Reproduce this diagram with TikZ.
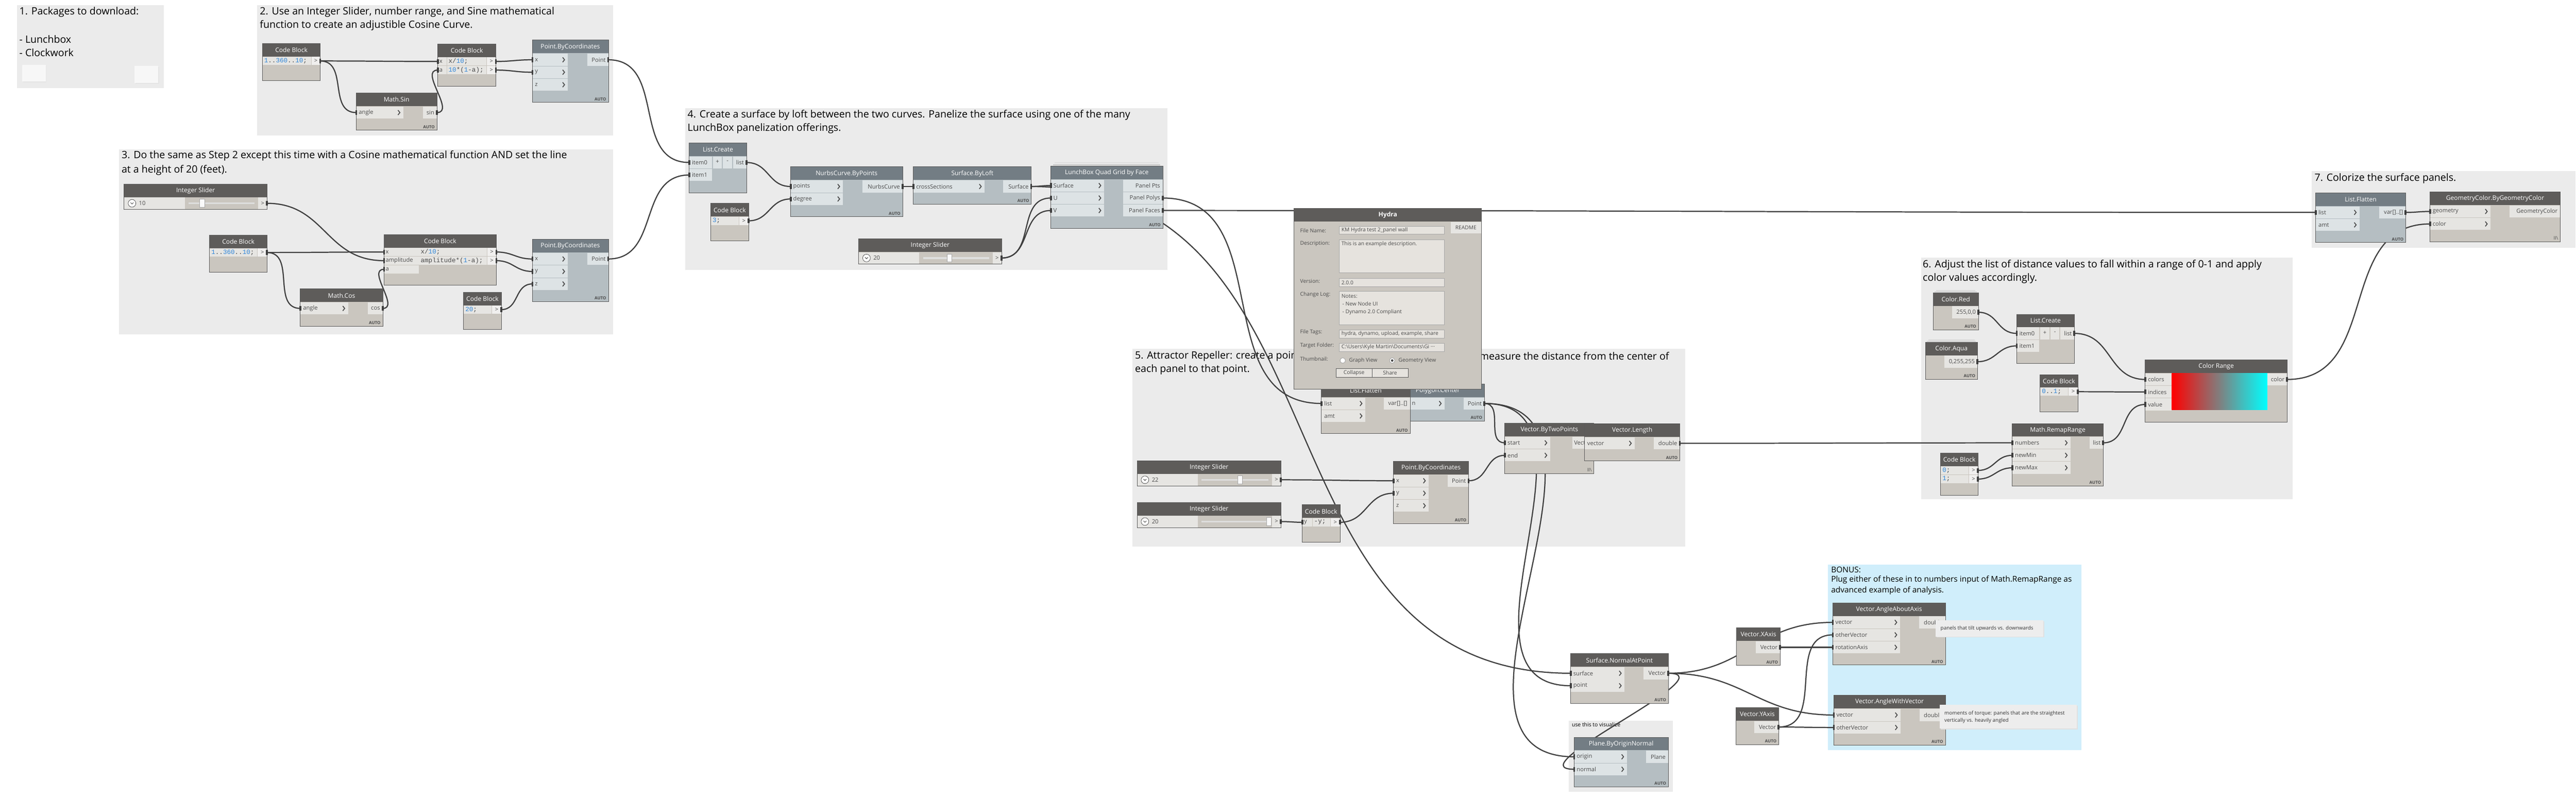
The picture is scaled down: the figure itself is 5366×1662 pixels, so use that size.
\documentclass[tikz,border=0pt]{standalone}
\usepackage{fontspec}
\setmainfont{Open Sans}
\newfontfamily\monof{Liberation Mono}
\usetikzlibrary{calc,fit}
\pgfdeclarelayer{bg}
\pgfdeclarelayer{wires}
\pgfsetlayers{bg,wires,main}
\definecolor{grp}{HTML}{EBEBEB}
\definecolor{bonusc}{HTML}{D0EEFB}
\definecolor{dkhead}{HTML}{5E5C5A}
\definecolor{dkbody}{HTML}{CAC6BF}
\definecolor{dkrow}{HTML}{E6E5E2}
\definecolor{blhead}{HTML}{737D84}
\definecolor{blbody}{HTML}{B5BEC2}
\definecolor{blrow}{HTML}{DDE3E5}
\definecolor{nborder}{HTML}{5A5A5A}
\definecolor{wirec}{HTML}{3E3E3E}
\definecolor{cblue}{HTML}{2F86DA}
\definecolor{ptxt}{HTML}{4A4A4A}
\definecolor{hfield}{HTML}{E6E3DE}
\definecolor{hborder}{HTML}{A8A8A8}
\definecolor{notec}{HTML}{EDEDED}
\definecolor{trackc}{HTML}{DEDEDE}
\tikzset{
 gtitle/.style={inner sep=0, anchor=west, text=black, font=\fontsize{10.5}{12.5}\selectfont},
 btitle/.style={inner sep=0, anchor=west, text=black, font=\fontsize{8.3}{10}\selectfont},
 htitle/.style={inner sep=0, text=white, font=\fontsize{6.5}{8}\selectfont},
 plabel/.style={inner sep=0, text=ptxt, font=\fontsize{6}{7.2}\selectfont},
 codetxt/.style={inner sep=0, anchor=west, text=ptxt, font=\monof\fontsize{6.75}{8}\selectfont},
 autolbl/.style={inner sep=0, anchor=south east, text=ptxt, font=\bfseries\fontsize{4.3}{5}\selectfont},
 wire/.style={draw=wirec, line width=1.2pt},
 chev/.style={draw=ptxt, line width=0.9pt},
 nb/.style={draw=nborder, line width=0.5pt},
 hyd/.style={inner sep=0, anchor=west, text=ptxt, font=\fontsize{5.5}{6.6}\selectfont},
 notet/.style={inner sep=0, anchor=west, text=black!80, font=\fontsize{5.3}{6.4}\selectfont},
}
% node box: name x1 y1 x2 y2 hb title scheme
\newcommand\DN[8]{%
 \node[fit={(#2,#3)(#4,#5)}, inner sep=0, fill=#8body] (#1) {};
 \fill[#8head] (#2,#3) rectangle (#4,#6);
 \node[htitle] (#1-t) at ({(#2+#4)/2},{(#3+#6)/2}) {#7};}
\newcommand\Bd[1]{\draw[nb] (#1.north west) rectangle (#1.south east);}
% input row: scheme x1 yc colright label port
\newcommand\DIn[6]{%
 \fill[#1row] (#2,#3-12.5) rectangle (#4,#3+12.5);
 \node[plabel, anchor=west] (#6-l) at (#2+5,#3) {#5};
 \draw[chev] (#4-11,#3-5) -- (#4-7,#3) -- (#4-11,#3+5);
 \coordinate (#6) at (#2,#3);}
\newcommand\DInN[6]{%
 \fill[#1row] (#2,#3-12.5) rectangle (#4,#3+12.5);
 \node[plabel, anchor=west] (#6-l) at (#2+5,#3) {#5};
 \coordinate (#6) at (#2,#3);}
% output row: scheme x2 yc colleft label port
\newcommand\DOut[6]{%
 \fill[#1row] (#4,#3-12.5) rectangle (#2,#3+12.5);
 \node[plabel, anchor=east] (#6-l) at (#2-5,#3) {#5};
 \coordinate (#6) at (#2,#3);}
% code row: port codeleft outleft x2 yc text
\newcommand\DCode[6]{%
 \fill[dkrow] (#2,#5-8.5) rectangle (#3-1,#5+8.5);
 \fill[dkrow!60!white] (#3,#5-8.5) rectangle (#4,#5+8.5);
 \node[codetxt] (#1-c) at (#2+3,#5) {#6};
 \node[plabel] (#1-g) at ({(#3+#4)/2},#5) {>};
 \coordinate (#1) at (#4,#5);}
% code input: port x1 colright yc label
\newcommand\DCin[5]{%
 \fill[dkrow] (#2,#4-8.5) rectangle (#3,#4+8.5);
 \node[plabel, anchor=west] (#1-l) at (#2+3,#4) {#5};
 \coordinate (#1) at (#2,#4);}
\newcommand\DAuto[3]{\node[autolbl] (#1) at (#2-4,#3-3) {AUTO};}
\newcommand\DLace[3]{\node[autolbl, font=\fontsize{5}{6}\selectfont] (#1) at (#2-4,#3-3) {II\textbackslash};}
% slider: name x1 y1 x2 y2 hb value thumbx
\newcommand\DSlider[8]{%
 \DN{#1}{#2}{#3}{#4}{#5}{#6}{Integer Slider}{dk}
 \fill[dkrow] (#2,#6+0.5) rectangle (#2+126,#5);
 \fill[dkrow] (#4-18,#6+0.5) rectangle (#4,#5);
 \draw[fill=white, draw=ptxt, line width=0.4pt] (#2+16,{(#6+#5)/2}) circle (4pt);
 \draw[ptxt, line width=0.5pt] (#2+13,{(#6+#5)/2-1.5}) -- (#2+16,{(#6+#5)/2+1.5}) -- (#2+19,{(#6+#5)/2-1.5});
 \node[plabel, anchor=west] (#1-v) at (#2+30,{(#6+#5)/2}) {#7};
 \fill[trackc] (#2+134,{(#6+#5)/2-1.8}) rectangle (#4-26,{(#6+#5)/2+1.8});
 \draw[draw=gray!70, fill=white!96!gray, line width=0.4pt] (#8-5,#6+4) rectangle (#8+5,#5-4);
 \node[plabel] (#1-g) at (#4-9,{(#6+#5)/2}) {>};
 \coordinate (#1-o) at (#4,{(#6+#5)/2});
 \Bd{#1}}
\newcommand\DwireNT[2]{%
 \begin{pgfonlayer}{wires}
 \draw[wire] let \p1=(#1), \p2=(#2), \n1={4.5*veclen((\x2-\x1)/10,(\y2-\y1)/10)} in (#1) .. controls +(\n1,0pt) and +(-\n1,0pt) .. (#2);
 \end{pgfonlayer}}
\newcommand\Dwire[2]{%
 \DwireNT{#1}{#2}
 \fill[wirec] ($(#1)+(-2,-5)$) rectangle ($(#1)+(2,5)$);
 \fill[wirec] ($(#2)+(-2,-5)$) rectangle ($(#2)+(2,5)$);}
\begin{document}
\begin{tikzpicture}[x=0.5pt,y=-0.5pt]
\useasboundingbox (0,0) rectangle (5366,1662);
\begin{pgfonlayer}{bg}
\fill[white] (0,0) rectangle (5366,1662);
% groups
\fill[grp] (35,11) rectangle (341,184);
\fill[grp] (536,11) rectangle (1277,282);
\fill[grp] (248,311) rectangle (1277,697);
\fill[grp] (1427,225) rectangle (2432,562);
\fill[grp] (2359,727) rectangle (3510,1139);
\fill[grp] (4002,537) rectangle (4776,1040);
\fill[grp] (4815,356) rectangle (5365,516);
\fill[grp] (3268,1501) rectangle (3485,1649);
\fill[bonusc] (3808,1176) rectangle (4336,1563);
\node[gtitle] (g1a) at (40,25) {1. Packages to download:};
\node[gtitle] (g1b) at (40,82) {- Lunchbox};
\node[gtitle] (g1c) at (40,110) {- Clockwork};
\fill[black!10] (48,137) rectangle (97,172);
\node[fit={(46,135)(95,170)}, inner sep=0, fill=white!94!gray] (g1box1) {};
\fill[black!10] (282,139) rectangle (332,175);
\node[fit={(280,137)(330,173)}, inner sep=0, fill=white!94!gray] (g1box2) {};
\node[gtitle] (g2a) at (541,25) {2. Use an Integer Slider, number range, and Sine mathematical};
\node[gtitle] (g2b) at (541,53) {function to create an adjustible Cosine Curve.};
\node[gtitle] (g3a) at (253,325) {3. Do the same as Step 2 except this time with a Cosine mathematical function AND set the line};
\node[gtitle] (g3b) at (253,355) {at a height of 20 (feet).};
\node[gtitle] (g4a) at (1432,240) {4. Create a surface by loft between the two curves. Panelize the surface using one of the many};
\node[gtitle] (g4b) at (1432,268) {LunchBox panelization offerings.};
\node[gtitle] (g5a) at (2364,742) {5. Attractor Repeller: create a point};
\node[gtitle, anchor=east] (g5b) at (3477,742) {and measure the distance from the center of};
\node[gtitle] (g5c) at (2364,770) {each panel to that point.};
\node[gtitle] (g6a) at (4005,552) {6. Adjust the list of distance values to fall within a range of 0-1 and apply};
\node[gtitle] (g6b) at (4005,580) {color values accordingly.};
\node[gtitle] (g7a) at (4821,372) {7. Colorize the surface panels.};
\node[inner sep=0, anchor=west, font=\fontsize{5.6}{6.7}\selectfont] (gva) at (3274,1510) {use this to visualize};
\node[btitle] (gba) at (3814,1187) {BONUS:};
\node[btitle] (gbb) at (3814,1208) {Plug either of these in to numbers input of Math.RemapRange as};
\node[btitle] (gbc) at (3814,1230) {advanced example of analysis.};
\end{pgfonlayer}
% ===== GROUP 2 =====
\DN{cb2a}{547}{91}{667}{168}{118}{Code Block}{dk}
\DCode{cb2a-o}{547}{649}{667}{127}{\textcolor{cblue}{1}..\textcolor{cblue}{360}..\textcolor{cblue}{10};}
\Bd{cb2a}
\DN{cb2b}{912}{92}{1033}{179}{119}{Code Block}{dk}
\DCin{cb2b-x}{912}{930}{128}{x}
\DCin{cb2b-a}{912}{930}{146}{a}
\DCode{cb2b-o1}{931}{1014}{1033}{128}{x/\textcolor{cblue}{10};}
\DCode{cb2b-o2}{931}{1014}{1033}{146}{\textcolor{cblue}{10}*(\textcolor{cblue}{1}-a);}
\Bd{cb2b}
\DN{pbc2}{1109}{84}{1267}{213}{111}{Point.ByCoordinates}{bl}
\DIn{bl}{1109}{124.5}{1183}{x}{pbc2-x}
\DIn{bl}{1109}{150.5}{1183}{y}{pbc2-y}
\DIn{bl}{1109}{176.5}{1183}{z}{pbc2-z}
\DOut{bl}{1267}{124.5}{1223}{Point}{pbc2-o}
\DAuto{pbc2-au}{1267}{213}
\Bd{pbc2}
\DN{ms}{742}{194}{910}{271}{221}{Math.Sin}{dk}
\DIn{dk}{742}{234.5}{840}{angle}{ms-i}
\DOut{dk}{910}{234.5}{881}{sin}{ms-o}
\DAuto{ms-au}{910}{271}
\Bd{ms}
% ===== GROUP 3 =====
\DSlider{is3}{259}{384}{556}{436}{411}{10}{421}
\DN{cb3a}{437}{490}{556}{567}{517}{Code Block}{dk}
\DCode{cb3a-o}{437}{537}{556}{526}{\textcolor{cblue}{1}..\textcolor{cblue}{360}..\textcolor{cblue}{10};}
\Bd{cb3a}
\DN{cb3b}{800}{489}{1034}{594}{516}{Code Block}{dk}
\DCin{cb3b-x}{800}{872}{525}{x}
\DCin{cb3b-amp}{800}{872}{543}{amplitude}
\DCin{cb3b-a}{800}{872}{561}{a}
\DCode{cb3b-o1}{873}{1015}{1034}{525}{x/\textcolor{cblue}{10};}
\DCode{cb3b-o2}{873}{1015}{1034}{543}{amplitude*(\textcolor{cblue}{1}-a);}
\Bd{cb3b}
\DN{pbc3}{1109}{499}{1267}{628}{526}{Point.ByCoordinates}{bl}
\DIn{bl}{1109}{539.5}{1183}{x}{pbc3-x}
\DIn{bl}{1109}{565.5}{1183}{y}{pbc3-y}
\DIn{bl}{1109}{591.5}{1183}{z}{pbc3-z}
\DOut{bl}{1267}{539.5}{1223}{Point}{pbc3-o}
\DAuto{pbc3-au}{1267}{628}
\Bd{pbc3}
\DN{mc}{626}{602}{797}{679}{629}{Math.Cos}{dk}
\DIn{dk}{626}{642.5}{725}{angle}{mc-i}
\DOut{dk}{797}{642.5}{766}{cos}{mc-o}
\DAuto{mc-au}{797}{679}
\Bd{mc}
\DN{cb3c}{966}{609}{1044}{686}{636}{Code Block}{dk}
\DCode{cb3c-o}{966}{1025}{1044}{645}{\textcolor{cblue}{20};}
\Bd{cb3c}
% ===== GROUP 4 =====
\DN{lc4}{1436}{298}{1555}{401}{325}{List.Create}{bl}
\DInN{bl}{1436}{338.5}{1483}{item0}{lc4-i0}
\DInN{bl}{1436}{364.5}{1483}{item1}{lc4-i1}
\fill[blrow] (1485,326) rectangle (1504,351);
\node[plabel] (lc4-plus) at (1494.5,337) {+};
\fill[blrow] (1506,326) rectangle (1525,351);
\node[plabel] (lc4-minus) at (1515.5,337) {-};
\DOut{bl}{1555}{338.5}{1527}{list}{lc4-o}
\Bd{lc4}
\DN{cb4}{1481}{424}{1559}{501}{451}{Code Block}{dk}
\DCode{cb4-o}{1481}{1540}{1559}{460}{\textcolor{cblue}{3};}
\Bd{cb4}
\DN{nc}{1647}{348}{1880}{451}{375}{NurbsCurve.ByPoints}{bl}
\DIn{bl}{1647}{388.5}{1756}{points}{nc-pts}
\DIn{bl}{1647}{414.5}{1756}{degree}{nc-deg}
\DOut{bl}{1880}{388.5}{1796}{NurbsCurve}{nc-o}
\DAuto{nc-au}{1880}{451}
\Bd{nc}
\DN{sl}{1903}{348}{2148}{425}{375}{Surface.ByLoft}{bl}
\DIn{bl}{1903}{388.5}{2051}{crossSections}{sl-i}
\DOut{bl}{2148}{388.5}{2090}{Surface}{sl-o}
\DAuto{sl-au}{2148}{425}
\Bd{sl}
\fill[gray!25] (2197,338.5) rectangle (2414,340.5);
\fill[gray!45] (2194,342) rectangle (2417,344.5);
\DN{lb}{2189}{346}{2422}{475}{373}{LunchBox Quad Grid by Face}{bl}
\DIn{bl}{2189}{386.5}{2300}{Surface}{lb-srf}
\DIn{bl}{2189}{412.5}{2300}{U}{lb-u}
\DIn{bl}{2189}{438.5}{2300}{V}{lb-v}
\DOut{bl}{2422}{386.5}{2340}{Panel Pts}{lb-pts}
\DOut{bl}{2422}{412.5}{2340}{Panel Polys}{lb-polys}
\DOut{bl}{2422}{438.5}{2340}{Panel Faces}{lb-faces}
\DAuto{lb-au}{2422}{475}
\Bd{lb}
\DSlider{is4}{1789}{498}{2086}{550}{525}{20}{1978}
% ===== GROUP 5 =====
\DSlider{is5a}{2369}{960}{2668}{1012}{987}{22}{2583}
\DSlider{is5b}{2369}{1047}{2668}{1099}{1074}{20}{2643}
\DN{cb5}{2713}{1052}{2791}{1129}{1079}{Code Block}{dk}
\DCin{cb5-i}{2713}{2733}{1088}{y}
\DCode{cb5-o}{2734}{2772}{2791}{1088}{-y;}
\Bd{cb5}
\DN{pbc5}{2903}{961}{3059}{1090}{988}{Point.ByCoordinates}{dk}
\DIn{dk}{2903}{1001.5}{2976}{x}{pbc5-x}
\DIn{dk}{2903}{1027.5}{2976}{y}{pbc5-y}
\DIn{dk}{2903}{1053.5}{2976}{z}{pbc5-z}
\DOut{dk}{3059}{1001.5}{3016}{Point}{pbc5-o}
\DAuto{pbc5-au}{3059}{1090}
\Bd{pbc5}
\DN{pc}{2898}{800}{3092}{877}{827}{Polygon.Center}{bl}
\fill[blrow] (2898,828) rectangle (3009,853);
\node[plabel, anchor=east] (pc-i-l) at (2949,840.5) {n};
\draw[chev] (2998,835.5) -- (3002,840.5) -- (2998,845.5);
\coordinate (pc-i) at (2898,840.5);
\DOut{bl}{3092}{840.5}{3049}{Point}{pc-o}
\DAuto{pc-au}{3092}{877}
\Bd{pc}
\DN{lf5}{2753}{800}{2937}{903}{827}{List.Flatten}{dk}
\DIn{dk}{2753}{840.5}{2844}{list}{lf5-list}
\DIn{dk}{2753}{866.5}{2844}{amt}{lf5-amt}
\DOut{dk}{2937}{840.5}{2883}{var[]..[]}{lf5-o}
\DAuto{lf5-au}{2937}{903}
\Bd{lf5}
\DN{vb}{3135}{882}{3320}{986}{909}{Vector.ByTwoPoints}{dk}
\DIn{dk}{3135}{922.5}{3229}{start}{vb-start}
\DIn{dk}{3135}{948.5}{3229}{end}{vb-end}
\DOut{dk}{3320}{922.5}{3275}{Vector}{vb-o}
\DLace{vb-lc}{3320}{986}
\Bd{vb}
\DN{vl}{3301}{883}{3499}{960}{910}{Vector.Length}{dk}
\DIn{dk}{3301}{923.5}{3405}{vector}{vl-i}
\DOut{dk}{3499}{923.5}{3445}{double}{vl-o}
\DAuto{vl-au}{3499}{960}
\Bd{vl}
% ===== HYDRA =====
\DN{hydra}{2696}{434}{3086}{810}{461}{\bfseries Hydra}{dk}
\node[fit={(3022,462)(3085,486)}, inner sep=0, fill=dkrow] (hrm) {};
\node[hyd, anchor=center] (hrmt) at (3053.5,474) {README};
\node[hyd] (hl1) at (2708,480) {File Name:};
\node[fit={(2790,472)(3009,488)}, inner sep=0, fill=hfield, draw=hborder, line width=0.5pt] (hf1) {};
\node[hyd] (hf1t) at (2794,480) {KM Hydra test 2\_panel wall};
\node[hyd] (hl2) at (2708,508) {Description:};
\node[fit={(2790,499)(3009,568)}, inner sep=0, fill=hfield, draw=hborder, line width=0.5pt] (hf2) {};
\node[hyd] (hf2t) at (2794,509) {This is an example description.};
\node[hyd] (hl3) at (2708,586) {Version:};
\node[fit={(2790,580)(3009,597)}, inner sep=0, fill=hfield, draw=hborder, line width=0.5pt] (hf3) {};
\node[hyd] (hf3t) at (2794,588.5) {2.0.0};
\node[hyd] (hl4) at (2708,614) {Change Log:};
\node[fit={(2790,607)(3009,677)}, inner sep=0, fill=hfield, draw=hborder, line width=0.5pt] (hf4) {};
\node[hyd] (hf4a) at (2794,617) {Notes:};
\node[hyd] (hf4b) at (2796,633) {- New Node UI};
\node[hyd] (hf4c) at (2796,650) {- Dynamo 2.0 Compliant};
\node[hyd] (hl5) at (2708,692) {File Tags:};
\node[fit={(2790,687)(3009,704)}, inner sep=0, fill=hfield, draw=hborder, line width=0.5pt] (hf5) {};
\begin{scope}
\clip (2791,688) rectangle (3008,703);
\node[hyd] (hf5t) at (2794,695.5) {hydra, dynamo, upload, example, share};
\end{scope}
\node[hyd] (hl6) at (2708,720) {Target Folder:};
\node[fit={(2790,715)(3009,732)}, inner sep=0, fill=hfield, draw=hborder, line width=0.5pt] (hf6) {};
\node[hyd] (hf6t) at (2794,723.5) {C:\textbackslash Users\textbackslash Kyle Martin\textbackslash Documents\textbackslash Gi ···};
\node[hyd] (hl7) at (2708,748) {Thumbnail:};
\draw[fill=white, draw=gray!80, line width=0.4pt] (2797,751) circle (2.8pt);
\node[hyd] (hr1) at (2810,751) {Graph View};
\draw[fill=white, draw=gray!80, line width=0.4pt] (2900,751) circle (2.8pt);
\fill[ptxt] (2900,751) circle (1.3pt);
\node[hyd] (hr2) at (2913,751) {Geometry View};
\node[fit={(2783,768)(2858,786)}, inner sep=0, fill=hfield, draw=gray!70!black, line width=0.5pt] (hb1) {};
\node[hyd, anchor=center] (hb1t) at (2820.5,777) {Collapse};
\node[fit={(2858,768)(2933,786)}, inner sep=0, fill=hfield, draw=gray!70!black, line width=0.5pt] (hb2) {};
\node[hyd, anchor=center] (hb2t) at (2895.5,777) {Share};
\Bd{hydra}
% ===== GROUP 6 =====
\fill[gray!30] (4033,604) rectangle (4115,606);
\fill[gray!50] (4030,607) rectangle (4118,609);
\DN{cr}{4027}{610}{4121}{687}{637}{Color.Red}{dk}
\DOut{dk}{4121}{650.5}{4066}{255,0,0}{cr-o}
\DAuto{cr-au}{4121}{687}
\Bd{cr}
\fill[gray!30] (4017,707) rectangle (4113,709);
\fill[gray!50] (4014,710) rectangle (4116,712);
\DN{ca}{4011}{713}{4119}{790}{740}{Color.Aqua}{dk}
\DOut{dk}{4119}{753.5}{4050}{0,255,255}{ca-o}
\DAuto{ca-au}{4119}{790}
\Bd{ca}
\DN{lc6}{4201}{655}{4321}{757}{681}{List.Create}{dk}
\DInN{dk}{4201}{694.5}{4248}{item0}{lc6-i0}
\DInN{dk}{4201}{720.5}{4248}{item1}{lc6-i1}
\fill[dkrow] (4250,682) rectangle (4269,707);
\node[plabel] (lc6-plus) at (4259.5,693) {+};
\fill[dkrow] (4271,682) rectangle (4290,707);
\node[plabel] (lc6-minus) at (4280.5,693) {-};
\DOut{dk}{4321}{694.5}{4292}{list}{lc6-o}
\Bd{lc6}
\DN{cb6a}{4250}{781}{4328}{858}{807}{Code Block}{dk}
\DCode{cb6a-o}{4250}{4309}{4328}{816}{\textcolor{cblue}{0}..\textcolor{cblue}{1};}
\Bd{cb6a}
\DN{crg}{4469}{750}{4764}{879}{777}{Color Range}{dk}
\DInN{dk}{4469}{790.5}{4524}{colors}{crg-col}
\DInN{dk}{4469}{816.5}{4524}{indices}{crg-idx}
\DInN{dk}{4469}{842.5}{4524}{value}{crg-val}
\shade[left color=red, right color=cyan] (4524,777) rectangle (4723,854);
\DOut{dk}{4764}{790.5}{4723}{color}{crg-o}
\Bd{crg}
\DN{mrr}{4192}{883}{4381}{1012}{909}{Math.RemapRange}{dk}
\DIn{dk}{4192}{922.5}{4313}{numbers}{mrr-num}
\DIn{dk}{4192}{948.5}{4313}{newMin}{mrr-min}
\DIn{dk}{4192}{974.5}{4313}{newMax}{mrr-max}
\DOut{dk}{4381}{922.5}{4353}{list}{mrr-o}
\DAuto{mrr-au}{4381}{1012}
\Bd{mrr}
\DN{cb6b}{4043}{944}{4120}{1031}{971}{Code Block}{dk}
\DCode{cb6b-o1}{4043}{4102}{4120}{980}{\textcolor{cblue}{0};}
\DCode{cb6b-o2}{4043}{4102}{4120}{998}{\textcolor{cblue}{1};}
\Bd{cb6b}
% ===== GROUP 7 =====
\DN{lf7}{4824}{402}{5011}{505}{429}{List.Flatten}{bl}
\DIn{bl}{4824}{442.5}{4915}{list}{lf7-list}
\DIn{bl}{4824}{468.5}{4915}{amt}{lf7-amt}
\DOut{bl}{5011}{442.5}{4956}{var[]..[]}{lf7-o}
\DAuto{lf7-au}{5011}{505}
\Bd{lf7}
\DN{gc}{5062}{400}{5333}{503}{427}{GeometryColor.ByGeometryColor}{dk}
\DIn{dk}{5062}{440.5}{5188}{geometry}{gc-geo}
\DIn{dk}{5062}{466.5}{5188}{color}{gc-col}
\DOut{dk}{5333}{440.5}{5228}{GeometryColor}{gc-o}
\DLace{gc-lc}{5333}{503}
\Bd{gc}
% ===== BOTTOM =====
\DN{snp}{3272}{1362}{3475}{1465}{1389}{Surface.NormalAtPoint}{dk}
\DIn{dk}{3272}{1402.5}{3384}{surface}{snp-srf}
\DIn{dk}{3272}{1428.5}{3384}{point}{snp-pt}
\DOut{dk}{3475}{1402.5}{3424}{Vector}{snp-o}
\DAuto{snp-au}{3475}{1465}
\Bd{snp}
\DN{pno}{3279}{1537}{3475}{1639}{1563}{Plane.ByOriginNormal}{bl}
\DIn{bl}{3279}{1576.5}{3389}{origin}{pno-org}
\DIn{bl}{3279}{1602.5}{3389}{normal}{pno-nrm}
\DOut{bl}{3475}{1576.5}{3429}{Plane}{pno-o}
\DAuto{pno-au}{3475}{1639}
\Bd{pno}
\DN{vx}{3618}{1308}{3708}{1386}{1335}{Vector.XAxis}{dk}
\DOut{dk}{3708}{1348.5}{3657}{Vector}{vx-o}
\DAuto{vx-au}{3708}{1386}
\Bd{vx}
\DN{vy}{3616}{1474}{3705}{1551}{1501}{Vector.YAxis}{dk}
\DOut{dk}{3705}{1514.5}{3654}{Vector}{vy-o}
\DAuto{vy-au}{3705}{1551}
\Bd{vy}
\DN{vaa}{3818}{1257}{4052}{1385}{1283}{Vector.AngleAboutAxis}{dk}
\DIn{dk}{3818}{1296.5}{3958}{vector}{vaa-vec}
\DIn{dk}{3818}{1322.5}{3958}{otherVector}{vaa-oth}
\DIn{dk}{3818}{1348.5}{3958}{rotationAxis}{vaa-rot}
\DOut{dk}{4052}{1296.5}{3998}{double}{vaa-o}
\DAuto{vaa-au}{4052}{1385}
\Bd{vaa}
\fill[black!12] (4034,1294) rectangle (4258,1328);
\node[fit={(4032,1292)(4256,1326)}, inner sep=0, fill=notec] (note1) {};
\node[notet] (note1t) at (4042,1309) {panels that tilt upwards vs. downwards};
\DN{vaw}{3820}{1449}{4052}{1552}{1476}{Vector.AngleWithVector}{dk}
\DIn{dk}{3820}{1489.5}{3959}{vector}{vaw-vec}
\DIn{dk}{3820}{1515.5}{3959}{otherVector}{vaw-oth}
\DOut{dk}{4052}{1489.5}{3999}{double}{vaw-o}
\DAuto{vaw-au}{4052}{1552}
\Bd{vaw}
\fill[black!12] (4043,1470) rectangle (4328,1520);
\node[fit={(4041,1468)(4326,1518)}, inner sep=0, fill=notec] (note2) {};
\node[notet] (note2a) at (4050,1486) {moments of torque: panels that are the straightest};
\node[notet] (note2b) at (4050,1501) {vertically vs. heavily angled};
% ===== WIRES =====
\Dwire{cb2a-o}{cb2b-x}
\Dwire{cb2a-o}{ms-i}
\Dwire{ms-o}{cb2b-a}
\Dwire{cb2b-o1}{pbc2-x}
\Dwire{cb2b-o2}{pbc2-y}
\Dwire{pbc2-o}{lc4-i0}
\Dwire{is3-o}{cb3b-amp}
\Dwire{cb3a-o}{cb3b-x}
\Dwire{cb3a-o}{mc-i}
\Dwire{mc-o}{cb3b-a}
\Dwire{cb3b-o1}{pbc3-x}
\Dwire{cb3b-o2}{pbc3-y}
\Dwire{cb3c-o}{pbc3-z}
\Dwire{pbc3-o}{lc4-i1}
\Dwire{lc4-o}{nc-pts}
\Dwire{cb4-o}{nc-deg}
\Dwire{nc-o}{sl-i}
\Dwire{sl-o}{lb-srf}
\Dwire{sl-o}{snp-srf}
\Dwire{is4-o}{lb-u}
\Dwire{is4-o}{lb-v}
\Dwire{lb-polys}{lf5-list}
\Dwire{lb-faces}{lf7-list}
\DwireNT{lf5-o}{pc-i}
\Dwire{is5a-o}{pbc5-x}
\Dwire{is5b-o}{cb5-i}
\Dwire{cb5-o}{pbc5-y}
\Dwire{pbc5-o}{vb-end}
\Dwire{pc-o}{vb-start}
\Dwire{pc-o}{snp-pt}
\Dwire{pc-o}{pno-org}
\DwireNT{vb-o}{vl-i}
\Dwire{vl-o}{mrr-num}
\Dwire{cr-o}{lc6-i0}
\Dwire{ca-o}{lc6-i1}
\Dwire{lc6-o}{crg-col}
\Dwire{cb6a-o}{crg-idx}
\Dwire{mrr-o}{crg-val}
\Dwire{cb6b-o1}{mrr-min}
\Dwire{cb6b-o2}{mrr-max}
\Dwire{crg-o}{gc-col}
\Dwire{lf7-o}{gc-geo}
\Dwire{snp-o}{vaa-vec}
\Dwire{snp-o}{vaw-vec}
\Dwire{snp-o}{pno-nrm}
\Dwire{vx-o}{vaa-rot}
\Dwire{vy-o}{vaa-oth}
\Dwire{vy-o}{vaw-oth}
\end{tikzpicture}
\end{document}
